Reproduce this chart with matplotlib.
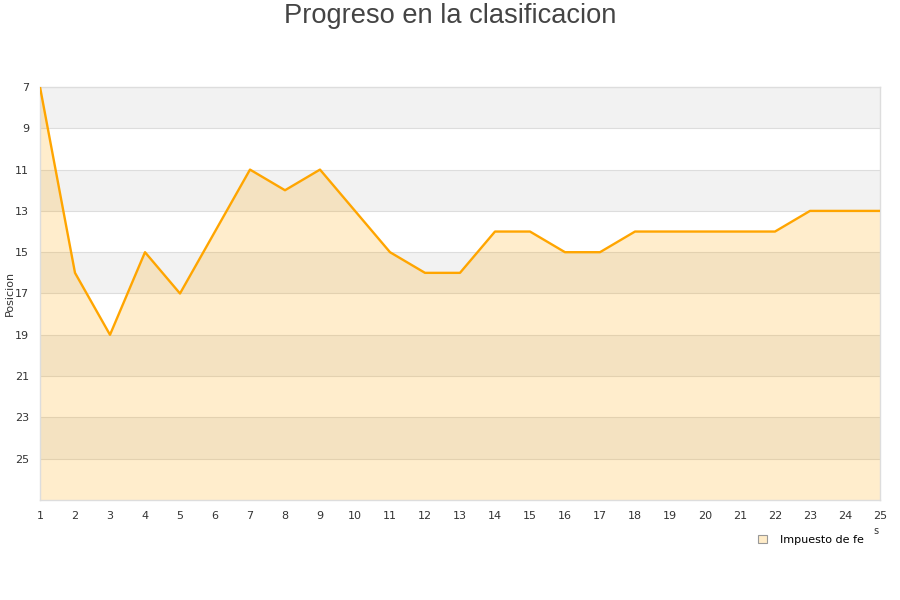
import matplotlib
matplotlib.use("Agg")
import matplotlib.pyplot as plt
from matplotlib.patches import Patch

jornadas = list(range(1, 26))
posicion = [7, 16, 19, 15, 17, 14, 11, 12, 11, 13, 15, 16, 16, 14, 14, 15, 15, 14, 14, 14, 14, 14, 13, 13, 13]
yticks = [7, 9, 11, 13, 15, 17, 19, 21, 23, 25]
series_name = "Impuesto de fe"
title = "Progreso en la clasificacion"

fig = plt.figure(figsize=(9, 6), dpi=100)
ax = fig.add_axes([40/900, 1-500/600, 840/900, 413/600])

ymin, ymax = 7, 27
# alternating bands
for i, y0 in enumerate(range(ymin, ymax, 2)):
    if i % 2 == 0:
        ax.axhspan(y0, y0 + 2, color="#f2f2f2", zorder=0, lw=0)

for y in yticks[1:]:
    ax.axhline(y, color="#dddddd", lw=0.8, zorder=1)

ax.fill_between(jornadas, posicion, ymax, color="#ffa500", alpha=0.2, lw=0, zorder=2)
ax.plot(jornadas, posicion, color="#ffa500", lw=1.7, zorder=3)

ax.set_xlim(1, 25)
ax.set_ylim(ymax, ymin)
ax.set_xticks(jornadas)
ax.set_yticks(yticks)
ax.tick_params(axis="both", length=0, labelsize=8, colors="#333333", pad=8)
for s in ax.spines.values():
    s.set_color("#dddddd")
    s.set_linewidth(1)
ax.set_ylabel("Posicion", fontsize=8, color="#333333", va="center")
ax.yaxis.set_label_coords(-30/840, 0.5)

fig.text(0.5, 1-16/600, title, ha="center", va="center", fontsize=19.6,
         color="#444444", family=["Liberation Sans", "DejaVu Sans"])
fig.text(873/900, 1-531/600, "s", ha="left", va="center", fontsize=7, color="#333333")

leg = fig.legend(handles=[Patch(facecolor="#ffecc8", edgecolor="#999999", lw=0.8, label=series_name)],
                 loc="center left", bbox_to_anchor=(748/900, 1-540/600), frameon=False,
                 fontsize=8, handlelength=0.8, handleheight=0.8, handletextpad=1.2)

fig.savefig("out.png", dpi=100)
